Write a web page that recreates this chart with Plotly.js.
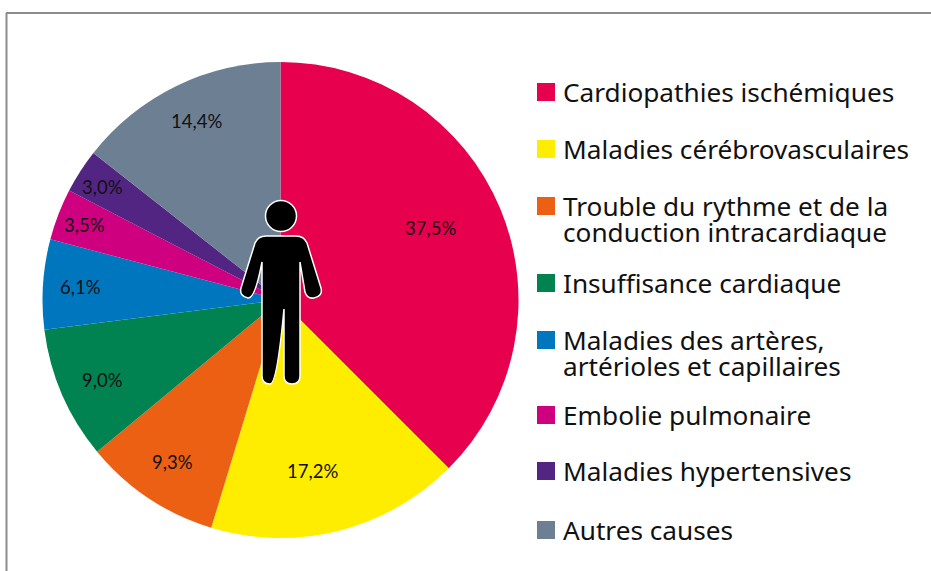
<!DOCTYPE html>
<html><head><meta charset="utf-8">
<script src="https://cdn.plot.ly/plotly-3.0.1.min.js"></script>
<style>html,body{margin:0;padding:0;background:#fff}#c{width:931px;height:571px}</style></head>
<body><div id="c"></div>
<script>
const categories=["Cardiopathies ischémiques","Maladies cérébrovasculaires","Trouble du rythme et de la conduction intracardiaque","Insuffisance cardiaque","Maladies des artères, artérioles et capillaires","Embolie pulmonaire","Maladies hypertensives","Autres causes"];
const values=[37.5,17.2,9.3,9.0,6.1,3.5,3.0,14.4];
const valueLabels=["37,5%","17,2%","9,3%","9,0%","6,1%","3,5%","3,0%","14,4%"];
const colors=["#e6004d","#ffed00","#ec6014","#008350","#0076bf","#cf007f","#522583","#6d7f92"];
const legendLines=[["Cardiopathies ischémiques"],["Maladies cérébrovasculaires"],["Trouble du rythme et de la","conduction intracardiaque"],["Insuffisance cardiaque"],["Maladies des artères,","artérioles et capillaires"],["Embolie pulmonaire"],["Maladies hypertensives"],["Autres causes"]];
const legendY=[92,149,206,283,340,415,471,530];
const labelRadius=[0.70,0.73,0.815,0.82,0.836,0.878,0.878,0.828];
const labelShiftX=[-4,-10,0,1,-1,-1,-2,2];
const labelShiftY=[8,-2,-1,-2,0,0,0,2];
const W=931,H=571;
const cx=280.5,cy=300,R=238;
const px=x=>x/W, py=y=>1-y/H;
const P=(c,pts)=>c+pts.map(p=>px(p[0])+","+py(p[1])).join(" ");
const bodyPath=[
P("M",[[255,243]]),P("Q",[[258,236],[266,236]]),P("L",[[296,236]]),P("Q",[[304,236],[307,243]]),
P("L",[[321,288]]),P("Q",[[323,296],[314,298]]),P("Q",[[307,299],[305,292]]),P("L",[[300,262]]),
P("L",[[300,376]]),P("Q",[[300,384],[292,384]]),P("Q",[[284,384],[284,376]]),P("L",[[284,309],[277,309],[277,376]]),
P("Q",[[277,384],[270,384]]),P("Q",[[262,384],[262,376]]),P("L",[[262,262],[257,292]]),
P("Q",[[255,299],[248,298]]),P("Q",[[239,296],[241,288]]),"Z"].join(" ");
const shapes=[
{type:"line",xref:"paper",yref:"paper",x0:px(6.5),x1:px(6.5),y0:0,y1:py(13),line:{color:"#8c8c8c",width:2}},
{type:"line",xref:"paper",yref:"paper",x0:px(6),x1:1,y0:py(13),y1:py(13),line:{color:"#8c8c8c",width:2}},
{type:"path",xref:"paper",yref:"paper",path:bodyPath,fillcolor:"#000",line:{color:"#fff",width:1.5}},
{type:"circle",xref:"paper",yref:"paper",x0:px(265.5),x1:px(296.5),y0:py(200.5),y1:py(231.5),fillcolor:"#000",line:{color:"#fff",width:1.5}}
];
const annotations=[];
const total=values.reduce((a,b)=>a+b,0);
let run=0;
values.forEach((v,i)=>{
  const a=(run+v/2)/total*2*Math.PI; run+=v;
  annotations.push({xref:"paper",yref:"paper",x:px(cx+R*labelRadius[i]*Math.sin(a)),y:py(cy-R*labelRadius[i]*Math.cos(a)),xshift:labelShiftX[i],yshift:labelShiftY[i],
    xanchor:"center",yanchor:"middle",showarrow:false,text:valueLabels[i],font:{family:"Lato",size:18.5,color:"#111"}});
});
legendLines.forEach((lines,i)=>{
  const y=legendY[i];
  shapes.push({type:"rect",xref:"paper",yref:"paper",x0:px(537),x1:px(555),y0:py(y-9),y1:py(y+9),fillcolor:colors[i],line:{width:0}});
  lines.forEach((t,j)=>annotations.push({xref:"paper",yref:"paper",x:px(561),y:py(y+j*26),xanchor:"left",yanchor:"middle",showarrow:false,text:t,font:{family:"Noto Sans",size:26.2,color:"#111"}}));
});
Plotly.newPlot("c",[{type:"pie",labels:categories,values:values,textinfo:"none",sort:false,direction:"clockwise",rotation:0,
 marker:{colors:colors,line:{width:0}},domain:{x:[px(42.5),px(518.5)],y:[py(538),py(62)]},hoverinfo:"label+percent"}],
 {width:W,height:H,margin:{l:0,r:0,t:0,b:0},showlegend:false,paper_bgcolor:"#fff",shapes:shapes,annotations:annotations},{displayModeBar:false});
</script></body></html>
